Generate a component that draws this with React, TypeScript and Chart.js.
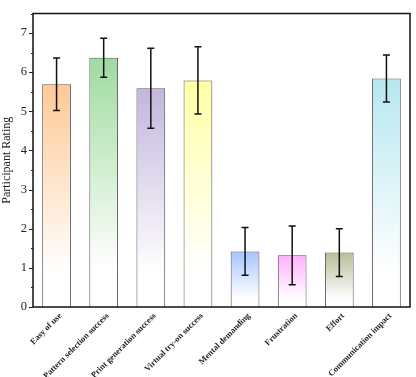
import React, { useEffect, useRef } from "react";
import { Chart, registerables } from "chart.js";

Chart.register(...registerables);

const categories = [
  "Easy of use",
  "Pattern selection success",
  "Print generation success",
  "Virtual try-on success",
  "Mental demanding",
  "Frustration",
  "Effort",
  "Communication impact",
];
const means = [5.69, 6.37, 5.59, 5.79, 1.42, 1.32, 1.39, 5.84];
const errors = [0.67, 0.5, 1.02, 0.86, 0.61, 0.75, 0.61, 0.6];
const colors = ["#FFC995", "#9FDB9F", "#C3B5DD", "#FFFFA6", "#A6C4FF", "#FFAFFF", "#B6BE98", "#B6E7F0"];
const yTicks = [0, 1, 2, 3, 4, 5, 6, 7];

const serif = "'Liberation Serif', 'Times New Roman', serif";

const errorBarPlugin = {
  id: "errorBars",
  afterDatasetsDraw(chart: any) {
    const meta = chart.getDatasetMeta(0);
    const y = chart.scales.y;
    const c = chart.ctx;
    c.save();
    c.strokeStyle = "#111";
    c.lineWidth = 1.5;
    meta.data.forEach((bar: any, i: number) => {
      const x = bar.x;
      const yt = y.getPixelForValue(means[i] + errors[i]);
      const yb = y.getPixelForValue(means[i] - errors[i]);
      const cap = 3.5;
      c.beginPath();
      c.moveTo(x, yt);
      c.lineTo(x, yb);
      c.moveTo(x - cap, yt);
      c.lineTo(x + cap, yt);
      c.moveTo(x - cap, yb);
      c.lineTo(x + cap, yb);
      c.stroke();
    });
    c.restore();
  },
};

const framePlugin = {
  id: "frame",
  afterDraw(chart: any) {
    const { left, right, top, bottom } = chart.chartArea;
    const y = chart.scales.y;
    const c = chart.ctx;
    c.save();
    c.strokeStyle = "#111";
    c.lineWidth = 1.5;
    c.strokeRect(left, top, right - left, bottom - top);
    c.lineWidth = 1;
    c.strokeStyle = "#222";
    for (let v = 0; v <= 7.5; v += 0.5) {
      const py = Math.round(y.getPixelForValue(v)) + 0.5;
      const len = Number.isInteger(v) ? 4 : 2;
      c.beginPath();
      c.moveTo(left - len, py);
      c.lineTo(left, py);
      c.stroke();
    }
    c.restore();
  },
};

export default function App() {
  const ref = useRef<HTMLCanvasElement>(null);
  useEffect(() => {
    document.body.style.margin = "0";
    const chart = new Chart(ref.current!, {
      type: "bar",
      data: {
        labels: categories,
        datasets: [
          {
            data: means,
            backgroundColor: (ctx: any) => {
              const chart = ctx.chart;
              const col = colors[ctx.dataIndex];
              if (!chart.chartArea || !chart.scales.y) return col;
              const ys = chart.scales.y;
              const t = ys.getPixelForValue(means[ctx.dataIndex]);
              const b = ys.getPixelForValue(0);
              if (!isFinite(t) || !isFinite(b) || b - t < 1) return col;
              const g = chart.ctx.createLinearGradient(0, t, 0, b);
              g.addColorStop(0, col);
              g.addColorStop(0.85, "#FFFFFF");
              g.addColorStop(1, "#FFFFFF");
              return g;
            },
            borderColor: "#5a5a5a",
            borderWidth: 1,
            barPercentage: 0.61,
            categoryPercentage: 1,
          },
        ],
      },
      options: {
        animation: false,
        responsive: false,
        maintainAspectRatio: false,
        layout: { padding: { top: 4, right: 6, left: 0, bottom: 0 } },
        plugins: { legend: { display: false }, tooltip: { enabled: false } },
        scales: {
          x: {
            grid: { display: false, drawTicks: false },
            border: { display: false },
            ticks: {
              maxRotation: 45,
              minRotation: 45,
              autoSkip: false,
              padding: 4,
              labelOffset: 4,
              color: "#222",
              font: { family: serif, size: 8.5, weight: "bold" },
            },
            afterFit: (s: any) => {
              s.height = 70;
            },
          },
          y: {
            min: 0,
            max: 7.5,
            grid: { display: false, drawTicks: false },
            border: { display: false },
            ticks: {
              stepSize: 1,
              includeBounds: false,
              padding: 6,
              color: "#222",
              font: { family: serif, size: 12.5 },
              callback: (v: any) => (yTicks.includes(v) ? String(v) : ""),
            },
            title: {
              display: true,
              text: "Participant Rating",
              color: "#222",
              font: { family: serif, size: 12 },
              padding: { top: 0, bottom: 2 },
            },
            afterFit: (s: any) => {
              s.width = 33;
            },
          },
        },
      },
      plugins: [errorBarPlugin, framePlugin],
    } as any);
    return () => chart.destroy();
  }, []);
  return (
    <div style={{ width: 416, height: 377, background: "#fff" }}>
      <canvas ref={ref} width={416} height={377} style={{ display: "block" }} />
    </div>
  );
}
